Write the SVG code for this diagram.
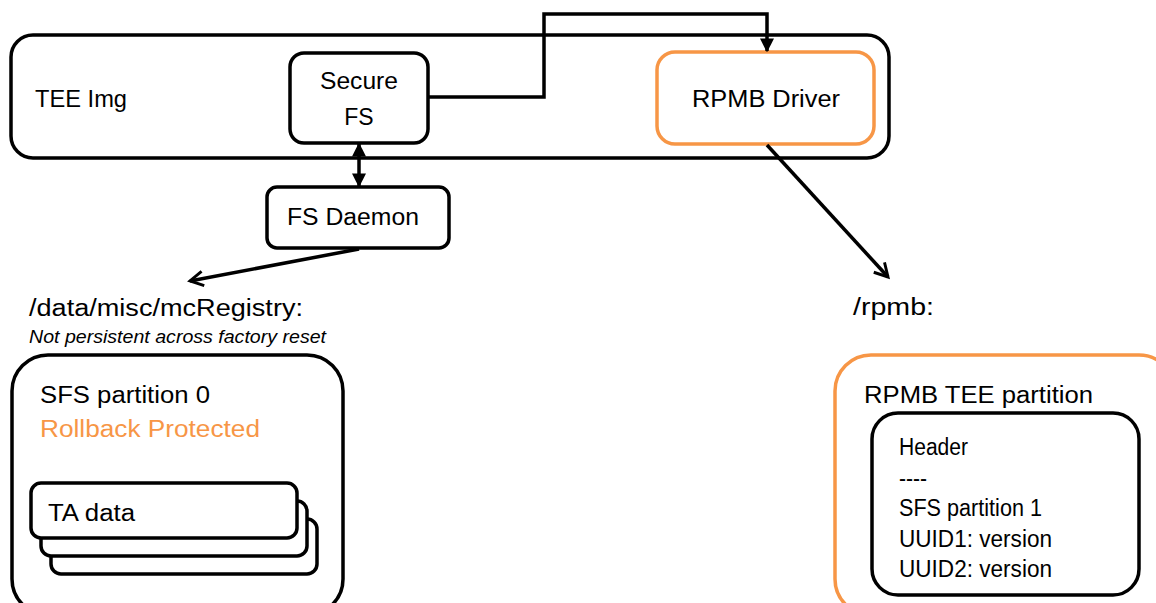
<svg xmlns="http://www.w3.org/2000/svg" width="1156" height="603" viewBox="0 0 1156 603">
<style>
text{font-family:"Liberation Sans",Arial,sans-serif;font-size:23px;fill:#000}
.box{fill:#fff;stroke:#000;stroke-width:3.5}
.obox{fill:#fff;stroke:#F79646;stroke-width:3.5}
.con{fill:none;stroke:#000;stroke-width:3.5}
.org{fill:#F79646}
.it{font-style:italic;font-size:18px}
</style>
<defs>
<marker id="tri" viewBox="0 0 10 10" refX="9" refY="5" markerWidth="4" markerHeight="4" orient="auto-start-reverse" markerUnits="strokeWidth">
<path d="M0,0 L10,5 L0,10 Z" fill="#000"/>
</marker>
<marker id="vee" viewBox="0 0 12 12" refX="10" refY="6" markerWidth="5" markerHeight="5" orient="auto" markerUnits="strokeWidth">
<path d="M1,1 L10,6 L1,11" fill="none" stroke="#000" stroke-width="2"/>
</marker>
</defs>
<g id="tee-img">
<rect class="box" x="11" y="35" width="878" height="123" rx="22"/>
<text x="35" y="107" textLength="92" lengthAdjust="spacingAndGlyphs">TEE Img</text>
</g>
<g id="secure-fs">
<rect class="box" x="290" y="53" width="138" height="90" rx="14"/>
<text x="359" y="89" text-anchor="middle" textLength="78" lengthAdjust="spacingAndGlyphs">Secure</text>
<text x="359" y="125" text-anchor="middle">FS</text>
</g>
<g id="rpmb-driver">
<rect class="obox" x="657" y="52" width="217" height="92" rx="18"/>
<text x="692" y="107" textLength="148" lengthAdjust="spacingAndGlyphs">RPMB Driver</text>
</g>
<g id="fs-daemon">
<rect class="box" x="267" y="187" width="182" height="61" rx="10"/>
<text x="287" y="225" textLength="132" lengthAdjust="spacingAndGlyphs">FS Daemon</text>
</g>
<g id="data-label">
<text x="29" y="316" textLength="274" lengthAdjust="spacingAndGlyphs">/data/misc/mcRegistry:</text>
<text class="it" x="29" y="343" textLength="297" lengthAdjust="spacingAndGlyphs">Not persistent across factory reset</text>
</g>
<g id="sfs-partition-0">
<rect class="box" x="12" y="355" width="331" height="260" rx="36"/>
<text x="40" y="403" textLength="170" lengthAdjust="spacingAndGlyphs">SFS partition 0</text>
<text class="org" x="40" y="437" textLength="220" lengthAdjust="spacingAndGlyphs">Rollback Protected</text>
<g id="ta-data">
<rect class="box" x="51" y="519" width="266" height="55" rx="10"/>
<rect class="box" x="41" y="501" width="266" height="55" rx="10"/>
<rect class="box" x="31" y="483" width="266" height="55" rx="10"/>
<text x="48" y="521" textLength="87" lengthAdjust="spacingAndGlyphs">TA data</text>
</g>
</g>
<g id="rpmb-label">
<text x="853" y="315" textLength="81" lengthAdjust="spacingAndGlyphs">/rpmb:</text>
</g>
<g id="rpmb-tee-partition">
<rect class="obox" x="835" y="355" width="340" height="260" rx="36"/>
<text x="864" y="403" textLength="229" lengthAdjust="spacingAndGlyphs">RPMB TEE partition</text>
<g id="partition-content">
<rect class="box" x="872" y="413" width="267" height="182" rx="26"/>
<text x="899" y="455" textLength="69" lengthAdjust="spacingAndGlyphs">Header</text>
<text x="899" y="486" textLength="28" lengthAdjust="spacingAndGlyphs">----</text>
<text x="899" y="516" textLength="143" lengthAdjust="spacingAndGlyphs">SFS partition 1</text>
<text x="899" y="547" textLength="153" lengthAdjust="spacingAndGlyphs">UUID1: version</text>
<text x="899" y="577" textLength="153" lengthAdjust="spacingAndGlyphs">UUID2: version</text>
</g>
</g>
<g id="connectors">
<path class="con" d="M428,97 H544 V14 H767 V51" marker-end="url(#tri)"/>
<path class="con" d="M359,144 V186" marker-start="url(#tri)" marker-end="url(#tri)"/>
<path class="con" d="M359,249 L190,281" marker-end="url(#vee)"/>
<path class="con" d="M767,145 L888,277" marker-end="url(#vee)"/>
</g>
</svg>
